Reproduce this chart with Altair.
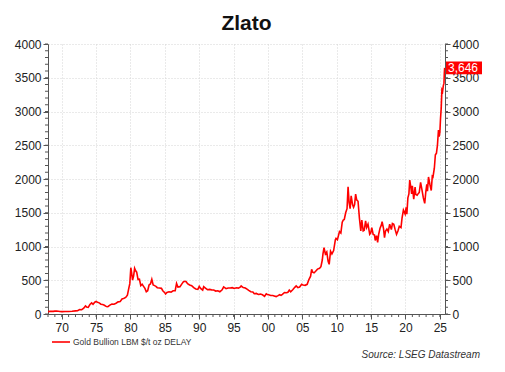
import altair as alt
import pandas as pd

years = [1968.0, 1968.25, 1968.5, 1968.75, 1969.0, 1969.25, 1969.5, 1969.75, 1970.0, 1970.5,
         1971.0, 1971.5, 1972.0, 1972.3, 1972.6, 1972.9, 1973.2, 1973.45, 1973.6, 1973.85,
         1974.1, 1974.35, 1974.55, 1974.8, 1975.0, 1975.2, 1975.45, 1975.7, 1975.95, 1976.2,
         1976.5, 1976.7, 1977.0, 1977.3, 1977.6, 1977.9, 1978.2, 1978.5, 1978.8, 1979.0,
         1979.3, 1979.55, 1979.75, 1979.9, 1980.05, 1980.15, 1980.3, 1980.45, 1980.6, 1980.75,
         1980.9, 1981.1, 1981.3, 1981.5, 1981.7, 1981.9, 1982.1, 1982.3, 1982.5, 1982.7,
         1982.9, 1983.1, 1983.3, 1983.5, 1983.7, 1983.9, 1984.2, 1984.5, 1984.7, 1984.95,
         1985.1, 1985.3, 1985.6, 1985.9, 1986.2, 1986.5, 1986.7, 1986.9, 1987.2, 1987.5,
         1987.7, 1987.95, 1988.1, 1988.3, 1988.6, 1988.9, 1989.2, 1989.5, 1989.8, 1990.0,
         1990.2, 1990.5, 1990.65, 1990.9, 1991.2, 1991.5, 1991.8, 1992.1, 1992.4, 1992.7,
         1993.0, 1993.3, 1993.55, 1993.7, 1993.9, 1994.2, 1994.5, 1994.8, 1995.1, 1995.4,
         1995.7, 1996.0, 1996.1, 1996.4, 1996.7, 1996.95, 1997.2, 1997.5, 1997.8, 1998.0,
         1998.3, 1998.6, 1998.9, 1999.2, 1999.5, 1999.75, 1999.9, 2000.1, 2000.4, 2000.7,
         2000.9, 2001.2, 2001.4, 2001.7, 2001.9, 2002.1, 2002.4, 2002.7, 2002.9, 2003.1,
         2003.3, 2003.6, 2003.9, 2004.1, 2004.35, 2004.6, 2004.9, 2005.1, 2005.4, 2005.7,
         2005.95, 2006.2, 2006.35, 2006.5, 2006.7, 2006.9, 2007.2, 2007.5, 2007.7, 2007.9,
         2008.0, 2008.15, 2008.35, 2008.55, 2008.75, 2008.9, 2009.1, 2009.3, 2009.55, 2009.8,
         2009.9, 2010.1, 2010.4, 2010.6, 2010.8, 2010.95, 2011.1, 2011.3, 2011.5, 2011.65,
         2011.8, 2011.95, 2012.1, 2012.3, 2012.45, 2012.6, 2012.75, 2012.9, 2013.1, 2013.3,
         2013.5, 2013.65, 2013.85, 2014.0, 2014.2, 2014.35, 2014.55, 2014.8, 2014.95, 2015.1,
         2015.3, 2015.5, 2015.6, 2015.8, 2015.95, 2016.1, 2016.3, 2016.5, 2016.6, 2016.8,
         2016.95, 2017.1, 2017.3, 2017.5, 2017.7, 2017.95, 2018.1, 2018.3, 2018.5, 2018.7,
         2018.9, 2019.1, 2019.35, 2019.5, 2019.7, 2019.95, 2020.1, 2020.2, 2020.35, 2020.5,
         2020.62, 2020.75, 2020.9, 2021.0, 2021.2, 2021.4, 2021.5, 2021.7, 2021.9, 2022.0,
         2022.2, 2022.4, 2022.6, 2022.8, 2022.95, 2023.1, 2023.2, 2023.35, 2023.55, 2023.75,
         2023.9, 2024.0, 2024.2, 2024.35, 2024.5, 2024.65, 2024.8, 2024.9, 2025.0, 2025.1,
         2025.2, 2025.3, 2025.4, 2025.5, 2025.6, 2025.65, 2025.7]
prices = [35, 39, 40, 39, 42, 43, 41, 38, 35, 36,
          38, 41, 46, 49, 65, 63, 85, 120, 105, 98,
          140, 165, 145, 175, 185, 175, 165, 145, 140, 130,
          110, 108, 132, 148, 145, 160, 180, 185, 225, 230,
          245, 280, 380, 450, 686, 620, 503, 560, 676, 640,
          620, 510, 514, 420, 440, 410, 380, 330, 345, 430,
          445, 514, 430, 420, 410, 390, 385, 380, 345, 320,
          296, 320, 330, 325, 345, 345, 454, 400, 405, 450,
          478, 485, 478, 450, 430, 420, 390, 370, 365, 410,
          380, 355, 405, 385, 360, 365, 358, 355, 340, 345,
          330, 355, 400, 390, 375, 385, 385, 390, 378, 388,
          383, 400, 415, 392, 385, 368, 350, 330, 325, 300,
          305, 290, 295, 285, 262, 300, 290, 285, 275, 275,
          268, 258, 268, 285, 276, 290, 318, 315, 322, 355,
          330, 360, 395, 415, 390, 400, 440, 430, 425, 440,
          510, 560, 662, 620, 610, 630, 665, 676, 700, 800,
          890, 982, 890, 920, 780, 736, 930, 890, 940, 1100,
          1121, 1100, 1220, 1200, 1360, 1392, 1400, 1500, 1560, 1886,
          1650, 1560, 1750, 1620, 1580, 1620, 1777, 1690, 1670, 1420,
          1230, 1390, 1230, 1240, 1380, 1280, 1330, 1180, 1200, 1280,
          1180, 1170, 1090, 1160, 1060, 1180, 1270, 1320, 1367, 1270,
          1130, 1230, 1260, 1220, 1330, 1250, 1340, 1330, 1250, 1180,
          1230, 1300, 1280, 1420, 1540, 1480, 1580, 1480, 1720, 1780,
          1985, 1900, 1780, 1900, 1700, 1880, 1770, 1760, 1790, 1800,
          1950, 1840, 1720, 1639, 1800, 1920, 1820, 2030, 1920, 1830,
          2040, 2030, 2160, 2360, 2380, 2500, 2725, 2626, 2690, 2900,
          3050, 3320, 3300, 3380, 3420, 3565, 3646]

y_ticks = [0, 500, 1000, 1500, 2000, 2500, 3000, 3500, 4000]
y_minor = list(range(0, 4001, 100))
x_ticks = [1970, 1975, 1980, 1985, 1990, 1995, 2000, 2005, 2010, 2015, 2020, 2025]
x_minor = list(range(1968, 2026))
last_value = 3646
title_text = "Zlato"
legend_label = "Gold Bullion LBM $/t oz DELAY"
source_text = "Source: LSEG Datastream"

W, H = 397, 270
FONT = "Liberation Sans"
RED = "#ff0000"
AX = "#555555"

df = pd.DataFrame({"year": years, "price": prices})
xs = alt.Scale(domain=[1968, 2025.75], nice=False, zero=False)
ys = alt.Scale(domain=[0, 4000], nice=False)

common_axis = dict(labelFont=FONT, labelFontSize=12, labelColor="#222222",
                   domainColor=AX, tickColor=AX, tickSize=5, title=None,
                   labelOverlap=False)

x_axis = alt.Axis(values=x_ticks, format="d", labelExpr="substring(datum.label, 2)",
                  grid=True, gridColor="#d4d4d4", gridDash=[1, 2],
                  labelPadding=3, **common_axis)

line = alt.Chart(df).mark_line(color=RED, strokeWidth=1.6).encode(
    x=alt.X("year:Q", scale=xs, axis=x_axis),
    y=alt.Y("price:Q", scale=ys,
            axis=alt.Axis(orient="left", values=y_ticks, format="d", grid=True,
                          gridColor="#d4d4d4", gridDash=[1, 2], labelPadding=2,
                          **common_axis)),
)

right_axis = alt.Chart(df).mark_line(opacity=0).encode(
    x=alt.X("year:Q", scale=xs, axis=x_axis),
    y=alt.Y("price:Q", scale=ys,
            axis=alt.Axis(orient="right", values=y_ticks, format="d", grid=False,
                          labelPadding=2, **common_axis)),
)

ymin_df = pd.DataFrame({"v": y_minor})
xmin_df = pd.DataFrame({"v": x_minor})
minor_left = alt.Chart(ymin_df).mark_rule(color=AX).encode(
    y=alt.Y("v:Q", scale=ys, axis=None), x=alt.value(-3), x2=alt.value(0))
minor_right = alt.Chart(ymin_df).mark_rule(color=AX).encode(
    y=alt.Y("v:Q", scale=ys, axis=None), x=alt.value(W), x2=alt.value(W + 3))
minor_bottom = alt.Chart(xmin_df).mark_rule(color=AX).encode(
    x=alt.X("v:Q", scale=xs, axis=x_axis), y=alt.value(H), y2=alt.value(H + 3))

last_df = pd.DataFrame({"v": [last_value]})
box = alt.Chart(last_df).transform_calculate(
    lo="datum.v - 95", hi="datum.v + 95"
).mark_rect(color=RED).encode(
    x=alt.value(398), x2=alt.value(434),
    y=alt.Y("lo:Q", scale=ys, axis=None), y2="hi:Q")
box_text = alt.Chart(last_df).mark_text(
    align="left", baseline="middle", color="white", font=FONT, fontSize=12
).encode(x=alt.value(400), y=alt.Y("v:Q", scale=ys, axis=None),
         text=alt.Text("v:Q", format=","))

one = pd.DataFrame({"a": [0]})
title = alt.Chart(one).mark_text(
    align="center", baseline="alphabetic", font=FONT, fontSize=21, fontWeight="bold",
    color="#111111").encode(x=alt.value(W / 2), y=alt.value(-14), text=alt.value(title_text))
legend_line = alt.Chart(one).mark_rule(color=RED, strokeWidth=1.6).encode(
    x=alt.value(4), x2=alt.value(22), y=alt.value(298))
legend_text = alt.Chart(one).mark_text(
    align="left", baseline="middle", font=FONT, fontSize=8.5, color="#333333"
).encode(x=alt.value(25), y=alt.value(298), text=alt.value(legend_label))
source = alt.Chart(one).mark_text(
    align="right", baseline="middle", font=FONT, fontSize=10, fontStyle="italic",
    color="#333333").encode(x=alt.value(432), y=alt.value(311), text=alt.value(source_text))

chart = alt.layer(
    line, right_axis, minor_left, minor_right, minor_bottom,
    box, box_text, title, legend_line, legend_text, source
).resolve_axis(y="independent").properties(
    width=W, height=H, autosize="none",
    padding={"left": 40, "top": 36, "right": 50, "bottom": 50},
    background="white",
).configure_view(stroke=None).configure_axis(labelOverlap=False)

chart.save("out.html", embed_options={"renderer": "svg", "actions": False})
